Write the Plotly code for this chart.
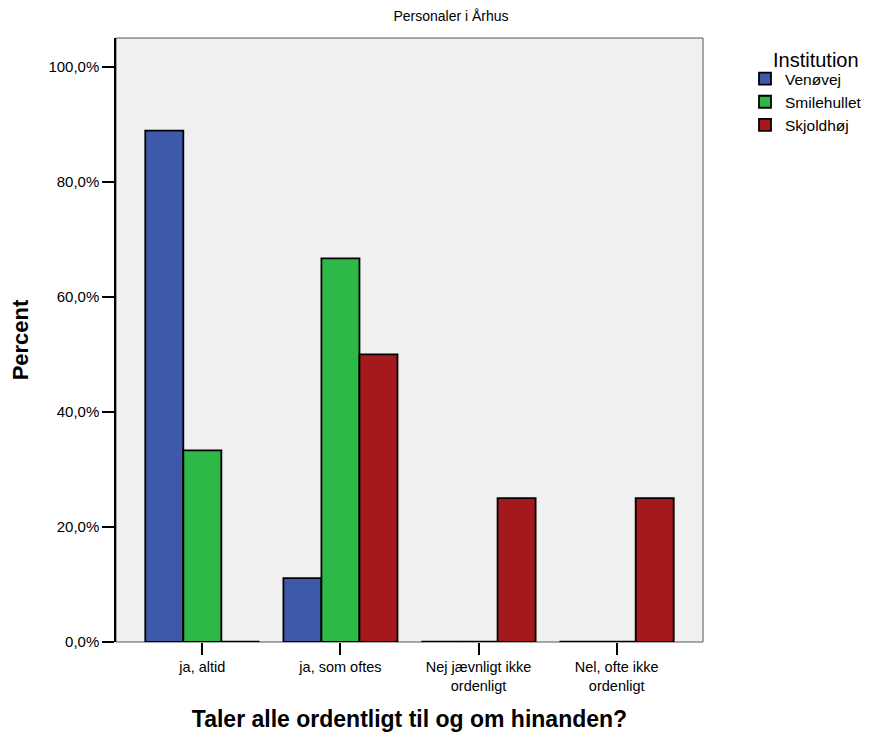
import plotly.graph_objects as go

categories = ["ja, altid", "ja, som oftes", "Nej jævnligt ikke<br>ordenligt", "Nel, ofte ikke<br>ordenligt"]
series_names = ["Venøvej", "Smilehullet", "Skjoldhøj"]
venovej = [88.9, 11.1, 0.0, 0.0]
smilehullet = [33.3, 66.7, 0.0, 0.0]
skjoldhoj = [0.0, 50.0, 25.0, 25.0]
y_ticks = [0, 20, 40, 60, 80, 100]
y_ticktext = ["0,0%", "20,0%", "40,0%", "60,0%", "80,0%", "100,0%"]

colors = ["#3E58AC", "#2EB848", "#A5191C"]
series = [venovej, smilehullet, skjoldhoj]

W, H = 862, 726  # page body has an 8px margin
bargap = 0.174
n = len(series)
w = (1 - bargap) / n
xs = list(range(len(categories)))

fig = go.Figure()
for k, (name, vals, col) in enumerate(zip(series_names, series, colors)):
    fig.add_trace(go.Bar(
        x=xs, y=vals, name=name, legendgroup=name,
        marker=dict(color=col, line=dict(color="black", width=1.8)),
    ))

# zero-valued bars drawn as flat black segments at the baseline
zx, zy = [], []
for k, vals in enumerate(series):
    off = (k - (n - 1) / 2) * w
    for i, v in enumerate(vals):
        if v == 0:
            zx += [i + off - w / 2, i + off + w / 2, None]
            zy += [v, v, None]
fig.add_trace(go.Scatter(x=zx, y=zy, mode="lines", line=dict(color="black", width=2.5),
                         showlegend=False, hoverinfo="skip", cliponaxis=False))

ml, mr, mt, mb = 108, 167, 30, 92
pw, ph = W - ml - mr, H - mt - mb

fig.update_layout(
    width=W, height=H,
    margin=dict(l=ml, r=mr, t=mt, b=mb, autoexpand=False),
    barmode="group", bargap=bargap, bargroupgap=0,
    plot_bgcolor="#F0F0F0", paper_bgcolor="white",
    font=dict(family="Liberation Sans, Arial, sans-serif", color="black", size=15),
    title=dict(text="Personaler i Århus", x=443 / W, xref="container", xanchor="center",
               y=1 - 8 / H, yanchor="middle", font=dict(size=14)),
    legend=dict(x=737 / W, xref="container", y=1 - 54 / H, yref="container",
                xanchor="left", yanchor="top", font=dict(size=15.5), tracegroupgap=0,
                bgcolor="rgba(0,0,0,0)"),
    showlegend=True,
)
fig.add_annotation(text="Institution", xref="paper", yref="paper",
                   x=(808 - ml) / pw, y=1 - (52 - mt) / ph,
                   xanchor="center", yanchor="middle", showarrow=False, font=dict(size=20))

fig.update_xaxes(
    tickvals=xs, ticktext=categories, range=[-0.625, 3.625], automargin=False,
    ticks="outside", ticklen=12, tickcolor="black", tickwidth=1.5,
    tickfont=dict(size=14.5),
    showline=False, showgrid=False, zeroline=False,
    title=dict(text="<b>Taler alle ordentligt til og om hinanden?</b>", font=dict(size=23), standoff=17),
)
fig.update_yaxes(
    range=[0, 105], tickvals=y_ticks, ticktext=y_ticktext, automargin=False,
    ticks="outside", ticklen=12, tickcolor="black", tickwidth=1.5,
    showline=True, linecolor="black", linewidth=1.5,
    showgrid=False, zeroline=False,
    title=dict(text="<b>Percent</b>", font=dict(size=22), standoff=20),
)
fig.add_shape(type="rect", xref="paper", yref="paper", x0=0, x1=1, y0=0, y1=1,
              line=dict(color="#555555", width=1), layer="below")

fig.write_html("out.html")
